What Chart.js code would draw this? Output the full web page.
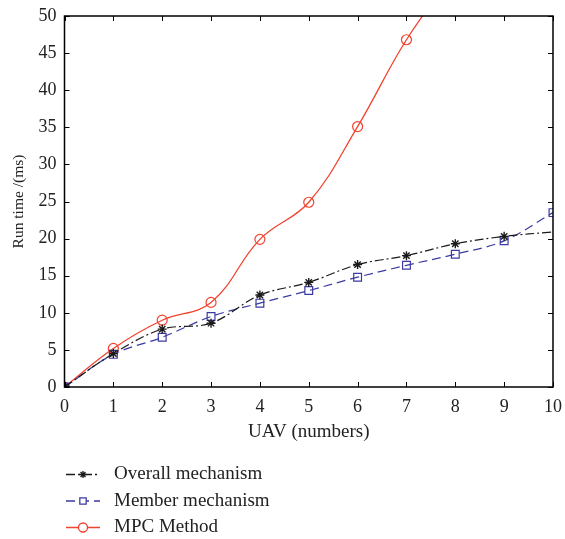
<!DOCTYPE html>
<html>
<head>
<meta charset="utf-8">
<script src="https://cdn.jsdelivr.net/npm/chart.js@4/dist/chart.umd.min.js"></script>
<style>
  html, body { margin: 0; padding: 0; background: #fff; }
  #wrap { width: 565px; height: 539px; }
</style>
</head>
<body>
<div id="wrap"><canvas id="runTimeChart" width="565" height="539"></canvas></div>
<script>
// UAV count on x axis
const uavCounts = [0, 1, 2, 3, 4, 5, 6, 7, 8, 9, 10];
const overallMechanism = [0, 4.5, 7.8, 8.6, 12.4, 14.1, 16.5, 17.7, 19.3, 20.3, 20.9];
const memberMechanism = [0, 4.4, 6.7, 9.5, 11.3, 13.0, 14.8, 16.4, 17.9, 19.7, 23.5];
const mpcMethod = [0, 5.2, 9.0, 11.4, 19.9, 24.9, 35.1, 46.8, 56.0];
const yTicks = [0, 5, 10, 15, 20, 25, 30, 35, 40, 45, 50];

const SERIF = '"Liberation Serif", "DejaVu Serif", serif';

// box + inward ticks, since chart.js only draws outward ones
const frameTicks = {
    id: 'frameTicks',
    afterDatasetsDraw(chart) {
        const { ctx, chartArea: a, scales } = chart;
        ctx.save();
        ctx.strokeStyle = '#000';
        ctx.lineWidth = 1.5;
        ctx.strokeRect(a.left, a.top, a.right - a.left, a.bottom - a.top);
        ctx.lineWidth = 1;
        ctx.beginPath();
        uavCounts.forEach(v => {
            const x = Math.round(scales.x.getPixelForValue(v)) + 0.5;
            ctx.moveTo(x, a.bottom); ctx.lineTo(x, a.bottom - 5);
            ctx.moveTo(x, a.top); ctx.lineTo(x, a.top + 5);
        });
        yTicks.forEach(v => {
            const y = Math.round(scales.y.getPixelForValue(v)) + 0.5;
            ctx.moveTo(a.left, y); ctx.lineTo(a.left + 5, y);
            ctx.moveTo(a.right, y); ctx.lineTo(a.right - 5, y);
        });
        ctx.stroke();
        ctx.restore();
    }
};

// legend stacked under the x title
const bottomLegend = {
    id: 'bottomLegend',
    afterDraw(chart) {
        const { ctx, chartArea: a } = chart;
        ctx.save();
        ctx.font = '19px ' + SERIF;
        ctx.textBaseline = 'middle';
        chart.data.datasets.forEach((ds, i) => {
            const y = a.bottom + 87.5 + i * 26.5;
            ctx.strokeStyle = ds.borderColor;
            ctx.lineWidth = 1.3;
            ctx.setLineDash(ds.borderDash || []);
            ctx.beginPath();
            ctx.moveTo(66, y); ctx.lineTo(100, y);
            ctx.stroke();
            ctx.setLineDash([]);
            ctx.fillStyle = '#fff';
            Chart.helpers.drawPoint(ctx, {
                pointStyle: ds.pointStyle,
                radius: ds.pointStyle === 'star' ? 3.5 : 4.5,
                rotation: 0,
                borderWidth: 1.2
            }, 83, y);
            ctx.fillStyle = '#222';
            ctx.fillText(ds.label, 114, y);
        });
        ctx.restore();
    }
};

const ctx = document.getElementById('runTimeChart').getContext('2d');
new Chart(ctx, {
    type: 'line',
    data: {
        labels: uavCounts,
        datasets: [
            {
                label: 'Overall mechanism',
                data: overallMechanism.map((v, i) => ({ x: uavCounts[i], y: v })),
                borderColor: '#1a1a1a',
                borderWidth: 1.2,
                borderDash: [9, 3, 2, 3],
                pointStyle: 'star',
                pointRadius: overallMechanism.map((v, i) => i === 10 ? 0 : 4.5),
                pointBorderColor: '#1a1a1a',
                pointBorderWidth: 1.4,
                backgroundColor: 'transparent',
                tension: 0.35
            },
            {
                label: 'Member mechanism',
                data: memberMechanism.map((v, i) => ({ x: uavCounts[i], y: v })),
                borderColor: '#3b3aa3',
                borderWidth: 1.2,
                borderDash: [9, 5],
                pointStyle: 'rect',
                pointRadius: 5.5,
                pointBorderColor: '#3b3aa3',
                pointBorderWidth: 1.2,
                backgroundColor: 'transparent',
                tension: 0.35
            },
            {
                label: 'MPC Method',
                data: mpcMethod.map((v, i) => ({ x: uavCounts[i], y: v })),
                borderColor: '#f2432e',
                borderWidth: 1.3,
                pointStyle: 'circle',
                pointRadius: 5,
                pointBorderColor: '#f2432e',
                pointBorderWidth: 1.2,
                backgroundColor: 'transparent',
                tension: 0.4
            }
        ]
    },
    options: {
        responsive: false,
        animation: false,
        devicePixelRatio: 1,
        layout: { padding: { left: 2, top: 16, right: 12, bottom: 92 } },
        plugins: {
            legend: { display: false },
            tooltip: { enabled: false }
        },
        scales: {
            x: {
                type: 'linear',
                min: 0,
                max: 10,
                afterFit(scale) {
                    scale.height = 60;
                    scale.paddingLeft = 0;
                    scale.paddingRight = 0;
                },
                afterBuildTicks(scale) { scale.ticks = uavCounts.map(v => ({ value: v })); },
                grid: { display: false, drawTicks: false },
                border: { display: false },
                ticks: { color: '#222', padding: 9, font: { family: SERIF, size: 18 } },
                title: {
                    display: true,
                    text: 'UAV (numbers)',
                    color: '#222',
                    padding: { top: 6 },
                    font: { family: SERIF, size: 19 }
                }
            },
            y: {
                min: 0,
                max: 50,
                afterFit(scale) {
                    scale.width = 62.5;
                    scale.paddingTop = 0;
                    scale.paddingBottom = 0;
                },
                afterBuildTicks(scale) { scale.ticks = yTicks.map(v => ({ value: v })); },
                grid: { display: false, drawTicks: false },
                border: { display: false },
                ticks: { color: '#222', padding: 8, font: { family: SERIF, size: 18 } },
                title: {
                    display: true,
                    text: 'Run time /(ms)',
                    color: '#222',
                    padding: { top: 8, bottom: 0 },
                    font: { family: SERIF, size: 15.5 }
                }
            }
        }
    },
    plugins: [frameTicks, bottomLegend]
});
</script>
</body>
</html>
